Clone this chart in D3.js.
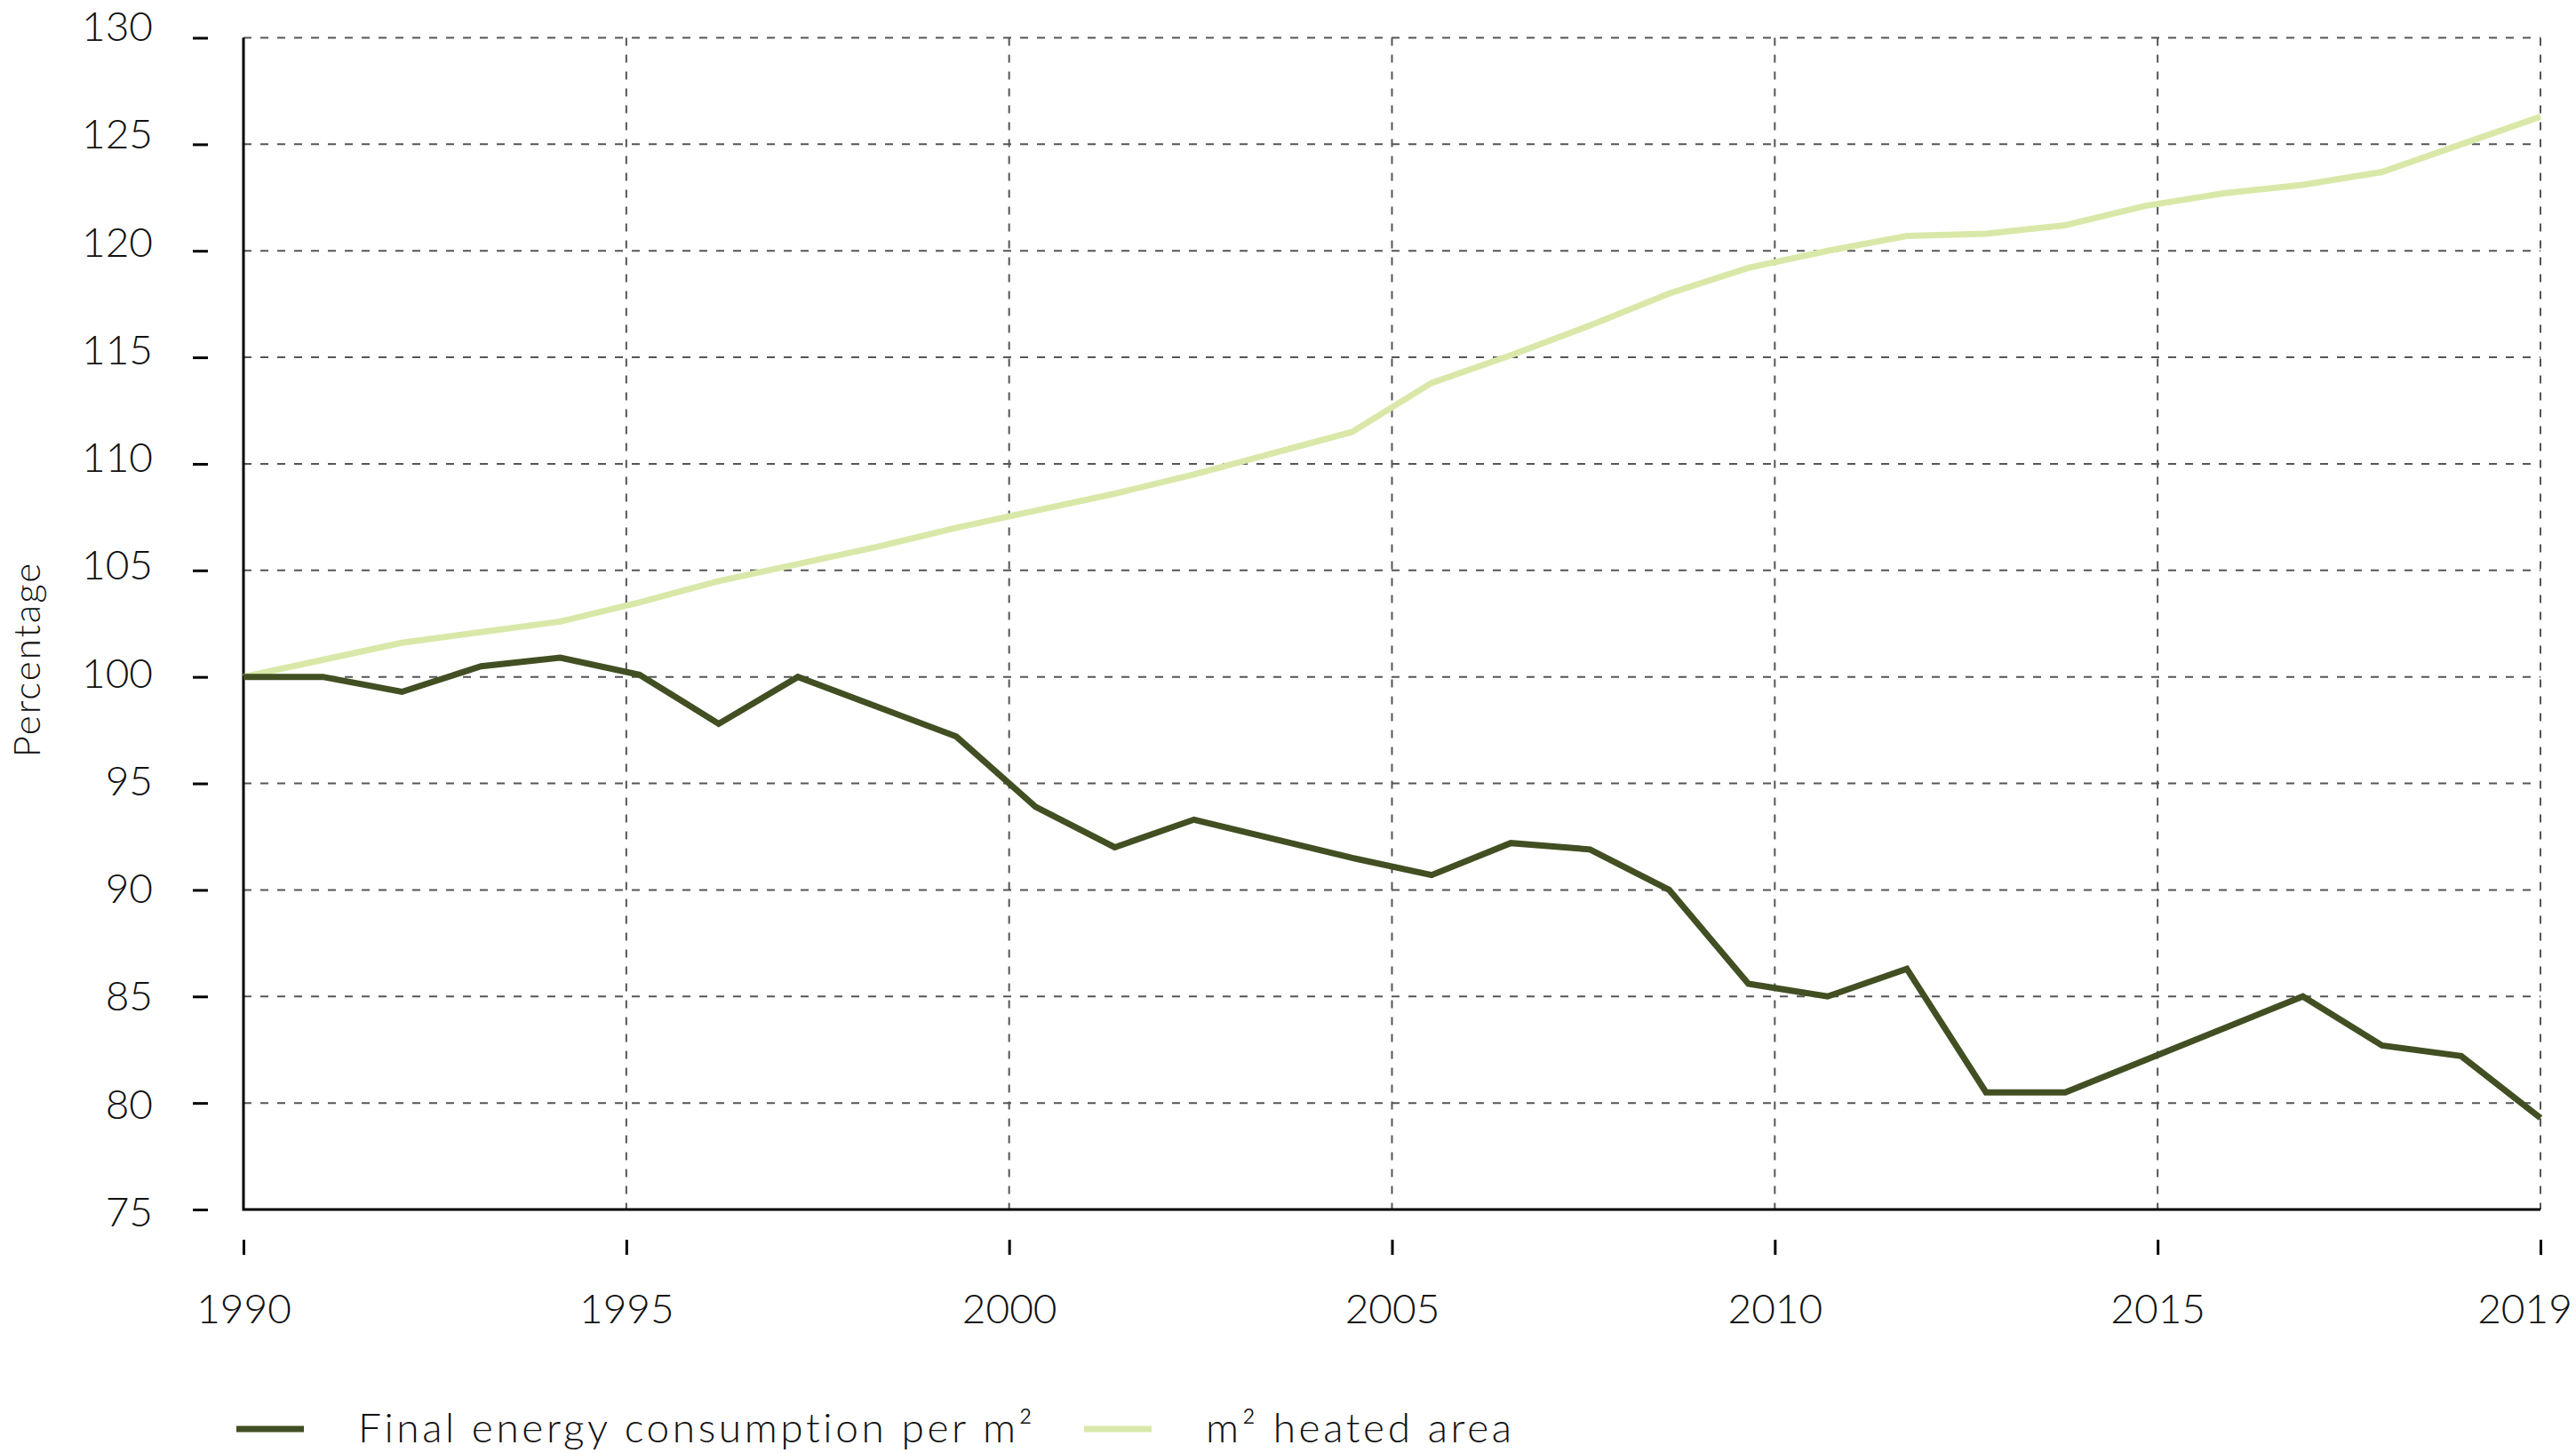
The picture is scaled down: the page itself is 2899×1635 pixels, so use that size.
<!DOCTYPE html>
<html>
<head>
<meta charset="utf-8">
<script src="https://cdn.jsdelivr.net/npm/d3@7"></script>
<style>
  body { margin: 0; background: #fff; }
  text { font-family: Lato, "Noto Sans", sans-serif; font-weight: 300; fill: #111; }
  .grid line { stroke: #555; stroke-width: 2; stroke-dasharray: 9 10; }
  .axis .domain { display: none; }
  .axis line { stroke: #000; stroke-width: 3; }
</style>
</head>
<body>
<svg id="chart"></svg>
<script>
const width = 2899;
const height = 1635;

// data (index 1990 = 100)
const years = [1990, 1991, 1992, 1993, 1994, 1995, 1996, 1997, 1998, 1999,
               2000, 2001, 2002, 2003, 2004, 2005, 2006, 2007, 2008, 2009,
               2010, 2011, 2012, 2013, 2014, 2015, 2016, 2017, 2018, 2019];
const energyPerM2 = [100.0, 100.0, 99.3, 100.5, 100.9, 100.1, 97.8, 100.0, 98.6, 97.2,
                     93.9, 92.0, 93.3, 92.4, 91.5, 90.7, 92.2, 91.9, 90.0, 85.6,
                     85.0, 86.3, 80.5, 80.5, 82.0, 83.5, 85.0, 82.7, 82.2, 79.3];
const heatedArea = [100.0, 100.8, 101.6, 102.1, 102.6, 103.5, 104.5, 105.3, 106.1, 107.0,
                    107.8, 108.6, 109.5, 110.5, 111.5, 113.8, 115.1, 116.5, 118.0, 119.2,
                    120.0, 120.7, 120.8, 121.2, 122.1, 122.7, 123.1, 123.7, 125.0, 126.3];
const seriesNames = ["Final energy consumption per m\u00B2", "m\u00B2 heated area"];
const seriesColors = ["#414f22", "#d9e8a8"];
const xTickLabels = ["1990", "1995", "2000", "2005", "2010", "2015", "2019"];
const yTicks = [75, 80, 85, 90, 95, 100, 105, 110, 115, 120, 125, 130];

const plotLeft = 274, plotRight = 2859, plotTop = 42.5, plotBottom = 1361;

const svg = d3.select("#chart")
    .attr("width", width)
    .attr("height", height);

const x = d3.scaleLinear().domain([1990, 2019]).range([plotLeft, plotRight]);
const xTick = d3.scalePoint().domain(xTickLabels).range([plotLeft, plotRight]);
const y = d3.scaleLinear().domain([75, 130]).range([plotBottom, plotTop]);
// tick labels are spread a little wider than the ticks themselves
const yLabel = d3.scaleLinear().domain([75, 130]).range([1364.6, 31]);

// gridlines
const grid = svg.append("g").attr("class", "grid");
grid.selectAll(".h")
    .data(yTicks.filter(d => d > 75))
    .enter().append("line")
    .attr("x1", plotLeft).attr("x2", plotRight)
    .attr("y1", d => y(d)).attr("y2", d => y(d));
grid.selectAll(".v")
    .data(xTickLabels.slice(1))
    .enter().append("line")
    .attr("x1", d => xTick(d)).attr("x2", d => xTick(d))
    .attr("y1", plotTop).attr("y2", plotBottom);

// axis lines
svg.append("path")
    .attr("d", `M${plotLeft},${plotTop}V${plotBottom}H${plotRight}`)
    .attr("fill", "none")
    .attr("stroke", "#000")
    .attr("stroke-width", 3);

// y axis (ticks detached from the axis line)
const yAxis = svg.append("g")
    .attr("class", "axis")
    .attr("transform", `translate(234,0)`)
    .call(d3.axisLeft(y).tickValues(yTicks).tickSize(17).tickPadding(45));
yAxis.selectAll("text")
    .attr("y", d => yLabel(d) - y(d))
    .style("font-size", "46px");

// x axis
const xAxis = svg.append("g")
    .attr("class", "axis")
    .attr("transform", `translate(0,1395)`)
    .call(d3.axisBottom(xTick).tickSize(17).tickPadding(44));
xAxis.selectAll("text")
    .style("font-size", "46px")
    .attr("dx", d => d === "2019" ? -18 : 0);

// y title
svg.append("text")
    .attr("transform", "translate(29,742) rotate(-90)")
    .attr("text-anchor", "middle")
    .attr("dominant-baseline", "central")
    .style("font-size", "42px")
    .style("letter-spacing", "2px")
    .text("Percentage");

// lines
const line = d3.line()
    .x((d, i) => x(years[i]))
    .y(d => y(d));

svg.append("path")
    .datum(heatedArea)
    .attr("d", line)
    .attr("fill", "none")
    .attr("stroke", seriesColors[1])
    .attr("stroke-width", 7);

svg.append("path")
    .datum(energyPerM2)
    .attr("d", line)
    .attr("fill", "none")
    .attr("stroke", seriesColors[0])
    .attr("stroke-width", 7);

// legend
const legendX = [266, 1220];
const legend = svg.selectAll(".legend")
    .data(seriesNames)
    .enter().append("g")
    .attr("class", "legend")
    .attr("transform", (d, i) => `translate(${legendX[i]},1608)`);
legend.append("line")
    .attr("x1", 0).attr("x2", 76)
    .attr("stroke", (d, i) => seriesColors[i])
    .attr("stroke-width", 7);
legend.append("text")
    .attr("x", 137)
    .attr("y", 15)
    .style("font-size", "46px")
    .style("letter-spacing", "3.6px")
    .text(d => d);
</script>
</body>
</html>
